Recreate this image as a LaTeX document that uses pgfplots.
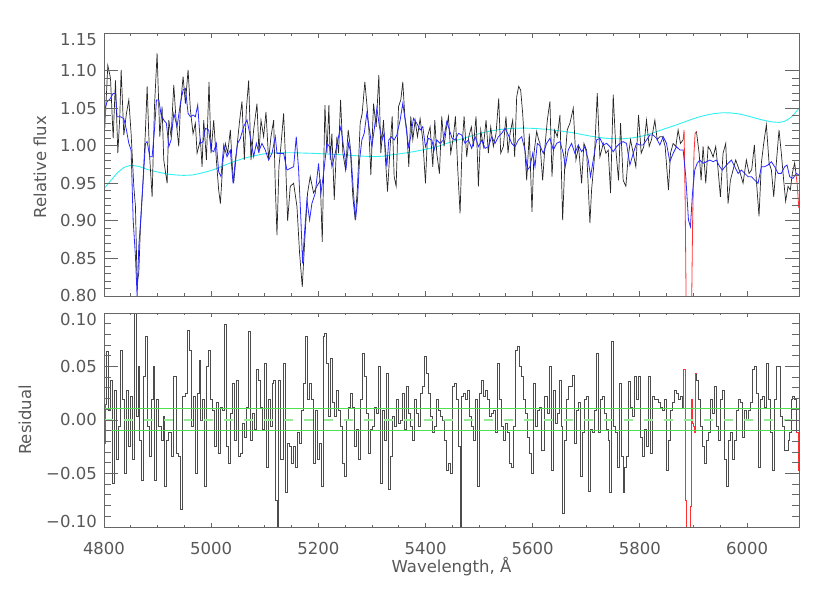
\documentclass[border=0pt]{standalone}
\usepackage{fontspec}
\setmainfont{DejaVu Sans}
\usepackage{pgfplots}
\pgfplotsset{compat=1.18}
\usepackage{pgfplotstable}

\definecolor{txt}{HTML}{585858}
\definecolor{frm}{HTML}{666666}
\definecolor{specblue}{HTML}{2828FF}
\definecolor{speccyan}{HTML}{30F0F0}
\definecolor{specred}{HTML}{FF3030}
\definecolor{grn}{HTML}{50E050}
\definecolor{ltgrn}{HTML}{98EC98}

% observed spectrum (black part)
\pgfplotstableread{
wl f
4803.0 1.045
4807.1 1.107
4812.1 1.090
4817.1 1.010
4821.4 1.087
4825.8 0.990
4829.5 1.039
4832.0 1.101
4837.0 1.014
4841.9 1.043
4846.3 1.061
4850.6 1.016
4855.6 0.946
4858.7 0.919
4861.8 0.817
4864.9 0.830
4868.0 0.892
4873.0 0.954
4877.4 1.021
4880.5 1.079
4884.8 0.990
4889.8 0.932
4894.2 1.052
4899.1 1.123
4904.1 1.012
4908.4 1.052
4911.5 0.981
4917.8 0.950
4920.9 1.034
4925.2 1.012
4930.2 1.081
4934.5 1.034
4939.5 0.999
4942.6 1.052
4947.6 1.092
4951.9 1.056
4956.9 1.101
4961.2 1.048
4966.2 1.016
4970.5 1.030
4973.7 0.990
4979.9 1.008
4983.0 0.972
4986.1 1.034
4991.1 0.981
4996.0 1.085
4999.8 0.990
5004.7 1.034
5009.7 0.981
5014.0 0.941
5017.2 0.923
5022.1 0.981
5026.5 1.003
5030.8 0.990
5035.8 1.021
5039.5 0.972
5042.0 0.950
5048.2 0.999
5053.2 1.034
5057.5 1.059
5061.9 0.981
5065.6 1.048
5070.0 1.087
5074.3 0.981
5079.3 1.021
5085.5 1.056
5089.2 0.990
5093.0 1.034
5097.9 1.012
5102.3 1.045
5107.2 0.981
5111.6 1.012
5116.6 1.034
5119.7 0.946
5122.8 0.881
5126.5 0.972
5130.2 1.000
5135.2 1.043
5138.3 0.990
5142.7 0.900
5147.6 0.946
5153.9 0.950
5160.1 0.919
5165.0 0.857
5170.0 0.812
5175.0 0.879
5179.9 0.937
5184.9 0.959
5191.1 0.937
5197.3 0.946
5203.6 0.954
5207.3 0.872
5212.3 1.054
5216.0 0.990
5219.7 1.054
5222.2 0.981
5225.3 1.016
5229.7 0.928
5234.6 1.012
5237.7 0.990
5241.5 1.061
5245.8 0.990
5250.8 0.968
5255.7 1.021
5259.5 0.999
5264.4 0.932
5268.8 0.901
5273.1 0.946
5278.1 1.030
5281.8 1.043
5286.8 1.085
5290.5 1.056
5294.3 1.021
5298.0 0.961
5303.0 1.056
5307.9 1.025
5312.9 1.094
5316.6 0.990
5321.6 1.034
5325.3 0.981
5329.1 0.939
5334.0 0.999
5337.8 1.039
5341.5 0.959
5345.2 0.946
5349.6 1.052
5353.9 1.061
5357.6 1.085
5361.4 1.039
5365.1 1.021
5368.8 0.972
5372.5 1.039
5376.3 1.008
5380.6 1.034
5385.0 1.012
5389.9 1.036
5394.9 1.008
5399.9 0.950
5403.6 1.012
5408.6 1.025
5413.6 0.972
5417.3 1.034
5421.0 0.990
5426.0 0.963
5430.3 1.039
5434.7 0.999
5438.4 1.021
5442.8 1.039
5447.1 0.990
5452.1 1.012
5455.8 1.039
5460.2 0.968
5464.5 0.910
5468.2 0.999
5472.0 1.039
5476.9 0.985
5480.7 1.012
5485.6 1.025
5489.4 0.999
5494.3 1.039
5498.7 0.946
5503.0 1.021
5508.0 0.999
5513.0 1.034
5517.3 0.990
5521.7 1.025
5526.6 0.999
5531.6 1.016
5536.6 1.063
5540.3 0.990
5545.3 0.999
5550.2 1.039
5554.0 0.990
5557.7 1.016
5562.7 1.034
5566.4 0.985
5570.1 1.065
5573.9 1.079
5577.6 1.074
5581.3 1.043
5585.0 0.999
5588.8 0.954
5593.7 1.016
5598.7 0.912
5602.4 0.990
5607.4 1.019
5611.1 1.008
5613.6 1.003
5618.6 0.954
5622.9 0.999
5627.3 1.034
5632.2 1.059
5636.0 0.959
5640.9 1.021
5645.9 1.012
5650.9 1.041
5655.9 0.901
5660.2 0.981
5664.5 1.021
5669.5 1.030
5675.7 1.050
5680.7 0.981
5685.7 0.999
5691.3 0.950
5695.6 1.003
5700.6 0.994
5706.8 0.897
5709.9 0.941
5714.9 0.981
5720.5 1.070
5725.4 0.985
5731.7 1.003
5736.6 0.990
5741.0 0.994
5745.3 0.937
5750.3 1.068
5755.3 0.994
5760.2 0.954
5764.0 1.030
5768.9 0.954
5773.9 0.946
5778.2 0.985
5782.6 1.008
5787.6 0.990
5792.5 0.972
5797.5 1.041
5802.5 0.990
5807.4 0.999
5812.4 1.034
5817.4 0.999
5821.7 1.008
5828.0 1.034
5832.3 1.008
5837.3 1.012
5842.2 1.012
5847.2 0.999
5853.4 0.941
5857.2 0.990
5862.1 1.003
5867.1 0.999
5871.4 1.021
5875.8 1.003
5880.8 1.008
}\obsA
\pgfplotstableread{
wl f
5905.6 1.019
5910.6 0.990
5914.3 0.954
5918.0 0.999
5923.0 0.950
5927.4 0.999
5931.7 0.994
5936.7 0.985
5941.6 0.999
5946.0 0.968
5950.3 0.932
5955.3 0.990
5960.3 1.003
5964.6 0.923
5969.0 0.954
5974.0 0.968
5978.9 0.981
5983.3 0.972
5987.6 0.963
5992.6 0.950
5998.8 0.981
6003.8 0.963
6008.7 0.968
6013.7 1.001
6017.4 0.954
6022.4 0.906
6026.8 0.977
6031.1 1.003
6036.1 1.028
6041.1 0.977
6045.4 0.968
6049.8 0.932
6054.7 0.977
6059.7 1.021
6064.0 0.990
6068.4 0.954
6072.1 0.926
6076.5 0.946
6080.8 0.941
6084.5 0.963
6088.9 0.977
6092.0 0.959
}\obsB
% best-fit model
\pgfplotstableread{
wl f
4800.9 1.0475
4805.9 1.0586
4812.1 1.0630
4817.1 1.0697
4821.4 1.0690
4824.5 1.0386
4830.8 1.0386
4837.0 1.0360
4841.9 1.0209
4846.3 1.0031
4850.6 0.9940
4854.4 0.9011
4858.7 0.8523
4861.8 0.7990
4864.9 0.8656
4868.0 0.8966
4873.0 0.9543
4877.4 1.0031
4880.5 1.0054
4885.4 0.9854
4889.8 0.9854
4894.2 1.0209
4897.9 1.0608
4902.3 1.0608
4906.6 1.0408
4911.5 1.0342
4916.5 1.0298
4920.9 0.9987
4925.2 1.0076
4930.2 1.0431
4936.4 1.0253
4942.6 1.0564
4947.6 1.0741
4951.9 1.0763
4956.9 1.0431
4961.2 1.0386
4966.2 1.0408
4970.5 1.0386
4974.9 1.0542
4979.9 1.0031
4984.8 1.0054
4989.2 1.0231
4995.4 1.0209
4999.8 0.9943
5004.7 0.9920
5009.7 1.0031
5014.0 0.9654
5018.4 0.9588
5023.4 1.0009
5029.6 0.9854
5035.8 0.9943
5040.8 0.9499
5045.1 0.9809
5049.5 1.0031
5054.4 1.0098
5060.7 1.0253
5066.9 1.0342
5073.1 1.0120
5079.3 0.9854
5084.3 1.0031
5088.6 0.9920
5094.8 1.0031
5101.0 0.9943
5107.2 0.9809
5113.5 0.9898
5119.7 1.0120
5122.8 0.9898
5129.0 0.9898
5135.2 0.9898
5141.4 0.9676
5147.6 0.9699
5153.9 0.9721
5158.8 1.0120
5163.2 0.9676
5167.5 0.9011
5170.6 0.8434
5173.7 0.8789
5178.7 0.9277
5183.7 0.9011
5188.0 0.9233
5194.2 0.9366
5200.4 0.9765
5204.8 0.9366
5209.8 0.9632
5216.0 1.0031
5221.0 0.9987
5225.3 0.9721
5231.5 0.9898
5237.7 1.0120
5242.1 1.0253
5247.0 0.9987
5252.0 0.9721
5256.4 1.0031
5260.7 0.9898
5265.7 0.9366
5269.4 0.9011
5273.1 0.9277
5276.9 0.9809
5281.2 1.0076
5285.6 1.0164
5290.5 1.0431
5295.5 1.0209
5299.9 0.9987
5304.2 1.0209
5309.2 1.0497
5314.1 1.0253
5319.1 1.0076
5322.8 1.0164
5327.8 0.9721
5331.5 1.0076
5336.5 1.0120
5341.5 1.0076
5346.5 1.0142
5352.7 1.0342
5357.6 1.0564
5362.0 1.0342
5368.2 0.9987
5372.5 1.0120
5377.5 1.0364
5383.7 1.0298
5389.9 1.0209
5394.9 1.0253
5399.9 0.9987
5405.5 1.0098
5411.7 1.0076
5416.0 0.9943
5421.0 1.0076
5427.2 1.0031
5433.4 1.0076
5439.7 1.0320
5444.6 1.0209
5449.6 1.0098
5455.2 1.0076
5461.4 1.0164
5467.6 1.0142
5473.8 1.0031
5480.0 1.0076
5486.2 0.9965
5492.5 1.0120
5498.7 0.9987
5504.9 1.0076
5511.1 0.9965
5517.3 0.9987
5523.5 1.0120
5529.7 1.0031
5536.0 1.0120
5542.2 1.0164
5548.4 1.0231
5554.6 1.0142
5560.8 1.0031
5567.0 0.9987
5573.2 1.0076
5579.4 1.0120
5585.7 0.9943
5590.0 0.9676
5595.0 0.9721
5600.0 0.9898
5604.3 0.9721
5608.6 1.0031
5613.6 1.0000
5619.8 0.9898
5626.0 1.0031
5632.2 1.0098
5638.5 0.9943
5644.7 1.0031
5650.9 1.0054
5657.1 0.9898
5660.8 0.9721
5666.4 0.9943
5672.6 1.0031
5678.8 0.9898
5685.0 1.0009
5691.3 0.9920
5697.5 0.9987
5703.7 0.9809
5708.0 0.9588
5713.0 0.9809
5719.2 1.0076
5725.4 1.0098
5731.7 1.0009
5737.9 1.0031
5744.1 0.9987
5750.3 0.9920
5756.5 0.9987
5762.7 1.0031
5768.9 1.0054
5775.1 1.0031
5781.4 0.9743
5787.6 0.9898
5793.8 1.0031
5800.0 1.0009
5806.2 1.0009
5812.4 1.0076
5818.6 1.0142
5824.8 1.0142
5831.1 1.0098
5837.3 1.0009
5843.5 1.0120
5849.7 1.0031
5855.9 0.9787
5862.1 0.9898
5868.3 0.9987
5874.6 0.9943
5880.8 0.9943
5885.7 0.9588
5890.7 0.9011
5894.4 0.8922
5898.2 0.9366
5902.5 0.9676
5906.9 0.9765
5911.8 0.9809
5918.0 0.9765
5924.3 0.9787
5930.5 0.9809
5936.7 0.9787
5942.9 0.9809
5949.1 0.9721
5954.1 0.9676
5959.1 0.9721
5964.6 0.9765
5970.9 0.9809
5977.1 0.9721
5983.3 0.9632
5989.5 0.9676
5995.7 0.9632
6001.9 0.9588
6008.1 0.9588
6014.3 0.9543
6020.6 0.9499
6026.8 0.9721
6033.0 0.9721
6039.2 0.9743
6045.4 0.9787
6051.6 0.9721
6057.8 0.9632
6064.0 0.9632
6070.3 0.9721
6074.6 0.9743
6079.6 0.9588
6085.8 0.9565
6092.0 0.9632
6096.4 0.9610
}\model
% polynomial continuum
\pgfplotstableread{
wl f
4800.0 0.943
4812.0 0.953
4825.0 0.964
4837.0 0.971
4849.4 0.974
4865.0 0.9725
4880.5 0.9685
4900.0 0.965
4917.8 0.9623
4935.0 0.961
4948.8 0.9605
4965.0 0.961
4979.9 0.9632
5000.0 0.967
5011.0 0.9699
5025.0 0.974
5042.0 0.9787
5060.0 0.983
5073.0 0.9854
5090.0 0.988
5104.0 0.9898
5120.0 0.9905
5135.0 0.9907
5160.0 0.9905
5191.0 0.9898
5220.0 0.9888
5253.0 0.9876
5280.0 0.9862
5303.0 0.9854
5320.0 0.986
5334.0 0.9876
5355.0 0.9895
5377.5 0.992
5395.0 0.9945
5408.6 0.9965
5425.0 0.9995
5439.7 1.0031
5455.0 1.0065
5470.7 1.0098
5486.0 1.0131
5501.8 1.0164
5517.0 1.019
5532.8 1.0209
5548.0 1.0223
5563.9 1.0231
5583.0 1.0234
5601.2 1.0231
5626.0 1.0218
5650.0 1.0198
5675.7 1.0173
5690.0 1.0152
5706.8 1.0129
5722.0 1.0112
5737.9 1.0098
5753.0 1.0092
5768.9 1.0093
5785.0 1.0103
5800.0 1.012
5815.0 1.0148
5831.0 1.0187
5846.0 1.0224
5862.0 1.0262
5878.0 1.0302
5893.2 1.0342
5908.0 1.0378
5924.3 1.0408
5940.0 1.0429
5955.3 1.0439
5970.0 1.0436
5986.4 1.0422
6000.0 1.0398
6017.4 1.0364
6033.0 1.0335
6048.5 1.0315
6061.0 1.031
6070.0 1.0325
6079.6 1.0364
6088.0 1.042
6097.0 1.050
}\cont
% residuals
\pgfplotstableread{
wl r
4803.0 0.015
4807.2 0.064
4810.9 0.009
4814.6 0.037
4817.1 -0.059
4821.4 0.028
4825.8 -0.037
4829.5 -0.006
4832.0 0.065
4835.7 0.019
4839.5 -0.050
4843.2 0.028
4846.9 -0.025
4850.6 0.022
4854.4 -0.037
4858.1 0.100
4861.8 0.003
4864.9 0.050
4868.0 -0.019
4871.8 -0.056
4875.5 0.041
4879.2 0.078
4883.0 -0.006
4886.7 -0.034
4889.8 0.019
4892.9 0.050
4896.6 -0.056
4900.4 0.019
4904.1 -0.006
4908.4 -0.019
4911.5 0.003
4914.6 -0.062
4917.8 -0.019
4922.7 -0.012
4927.1 -0.034
4930.2 0.041
4933.9 0.041
4936.4 -0.031
4941.4 -0.034
4943.9 -0.084
4947.6 0.022
4950.1 0.022
4953.8 0.025
4957.5 0.084
4961.2 0.065
4965.0 -0.006
4968.7 0.022
4972.4 -0.050
4976.2 0.025
4978.6 0.056
4982.4 0.000
4986.1 0.019
4989.8 -0.062
4992.3 0.050
4997.3 0.065
5001.0 0.019
5004.7 0.009
5008.5 -0.025
5012.2 0.016
5015.9 -0.031
5019.7 0.012
5023.4 0.009
5027.1 0.089
5030.8 -0.025
5034.6 -0.041
5038.3 0.006
5042.0 0.034
5045.8 -0.019
5049.5 0.037
5053.2 -0.034
5056.9 -0.031
5060.7 -0.003
5064.4 -0.016
5068.1 0.012
5070.6 0.083
5074.3 -0.019
5078.1 0.006
5081.8 -0.009
5085.5 0.047
5089.2 0.037
5093.0 0.012
5096.7 -0.009
5101.6 0.053
5104.1 -0.044
5107.9 0.019
5111.6 -0.006
5115.3 0.034
5117.8 0.037
5121.5 -0.075
5124.0 -0.100
5127.7 0.037
5132.1 -0.037
5136.4 0.053
5140.1 -0.068
5143.8 -0.022
5147.6 -0.025
5151.3 -0.041
5155.1 -0.025
5158.8 -0.044
5163.1 -0.012
5165.0 -0.022
5170.0 0.009
5173.7 0.034
5177.5 0.078
5181.2 0.019
5184.9 0.034
5188.6 0.019
5192.4 -0.041
5196.1 0.009
5199.8 -0.037
5203.6 -0.022
5207.3 -0.062
5209.8 0.078
5213.5 0.081
5217.2 0.053
5221.0 0.003
5225.3 0.058
5228.4 0.016
5232.1 0.003
5235.9 0.028
5239.6 0.009
5243.3 -0.006
5247.0 -0.041
5250.8 -0.053
5254.5 0.000
5258.2 0.012
5262.0 0.025
5265.7 0.012
5269.4 -0.025
5273.1 -0.009
5276.9 -0.037
5280.6 0.019
5284.3 0.062
5288.1 0.041
5291.8 0.006
5295.5 -0.031
5299.2 -0.009
5303.0 -0.006
5306.7 0.012
5310.4 0.006
5314.1 0.050
5317.9 -0.059
5321.6 0.009
5325.3 -0.019
5329.1 0.044
5332.8 -0.065
5336.5 -0.034
5340.2 0.003
5344.0 -0.006
5347.7 0.019
5351.4 -0.003
5355.2 0.000
5358.9 0.025
5362.6 -0.009
5366.3 0.031
5370.1 0.006
5373.8 -0.006
5377.5 -0.019
5381.2 0.019
5385.0 0.006
5388.7 -0.006
5392.4 0.025
5396.2 0.031
5399.9 0.059
5403.6 0.044
5407.3 0.025
5411.1 0.003
5414.8 -0.012
5418.5 -0.006
5422.3 0.019
5426.0 0.009
5429.7 0.003
5433.4 0.000
5437.2 -0.019
5440.9 -0.047
5444.6 -0.041
5448.3 -0.050
5452.1 0.031
5455.8 0.034
5459.5 0.019
5463.3 -0.025
5465.1 -0.100
5468.2 0.022
5472.0 0.025
5475.7 0.019
5479.4 0.028
5483.1 0.003
5486.9 -0.006
5490.6 -0.019
5494.3 0.019
5498.1 -0.062
5501.8 0.025
5505.5 0.037
5509.2 0.022
5513.0 0.028
5516.7 0.019
5520.4 0.003
5524.1 0.006
5527.9 0.009
5531.6 -0.012
5535.3 0.053
5539.1 0.019
5542.8 -0.006
5546.5 -0.019
5550.2 -0.003
5554.0 -0.012
5557.7 -0.041
5561.4 -0.044
5565.2 -0.006
5568.9 0.065
5572.6 0.069
5576.3 0.050
5580.1 0.041
5583.8 0.019
5587.5 0.006
5591.2 -0.016
5595.0 -0.031
5598.7 -0.050
5602.4 0.034
5606.2 -0.006
5609.9 0.009
5613.6 0.012
5619.8 -0.028
5624.8 0.022
5628.5 0.006
5632.2 0.050
5636.0 -0.047
5639.7 0.028
5643.4 -0.003
5647.1 0.006
5650.9 0.037
5654.6 -0.006
5657.1 -0.087
5660.8 -0.019
5664.5 0.019
5668.3 0.031
5672.0 0.031
5675.7 0.042
5679.5 -0.022
5683.2 0.009
5686.9 0.016
5690.6 -0.053
5694.4 -0.012
5698.1 0.019
5701.8 0.022
5705.6 -0.067
5709.3 -0.009
5713.0 -0.012
5716.7 0.009
5720.5 0.062
5724.2 -0.012
5727.9 0.019
5731.7 0.022
5735.4 0.006
5739.1 -0.009
5742.8 -0.019
5745.3 -0.068
5749.0 0.073
5752.8 -0.006
5756.5 -0.012
5760.2 -0.044
5764.0 0.034
5767.7 -0.034
5770.2 -0.068
5773.9 -0.044
5777.6 -0.034
5781.4 0.036
5785.1 0.012
5788.8 0.003
5792.5 0.041
5796.3 0.019
5800.0 0.041
5803.7 -0.016
5807.4 -0.034
5811.2 -0.009
5814.9 -0.025
5818.6 0.041
5822.4 -0.031
5826.1 0.022
5829.8 0.019
5833.5 0.019
5837.3 0.016
5841.0 0.012
5844.7 0.009
5848.5 0.019
5852.2 -0.047
5855.9 -0.019
5859.6 0.009
5863.4 0.016
5867.1 0.028
5870.8 0.025
5874.6 0.019
5878.3 0.022
5880.8 0.012
}\resA
\pgfplotstableread{
wl r
5905.6 0.044
5906.9 0.037
5910.6 0.019
5914.3 -0.006
5918.0 -0.025
5921.8 -0.041
5925.5 -0.019
5929.2 -0.012
5932.9 0.019
5936.7 0.006
5940.4 0.031
5944.1 -0.006
5947.9 -0.019
5951.6 0.019
5955.3 0.028
5959.0 -0.037
5962.8 -0.062
5966.5 -0.019
5970.2 -0.012
5974.0 -0.037
5977.7 -0.019
5981.4 0.009
5985.1 0.019
5988.9 0.016
5992.6 -0.016
5996.3 0.009
6000.1 0.000
6003.8 0.009
6007.5 0.016
6011.2 0.047
6015.0 0.050
6018.7 0.025
6022.4 -0.044
6026.2 0.019
6029.9 0.022
6033.6 0.012
6037.3 0.053
6041.1 0.019
6044.8 -0.012
6048.5 -0.047
6052.2 0.019
6056.0 0.050
6059.7 0.050
6063.4 0.003
6067.2 -0.006
6070.9 -0.028
6074.6 -0.028
6078.3 -0.019
6080.8 -0.012
6083.3 0.019
6087.0 0.022
6090.8 0.019
6092.0 -0.012
}\resB

\pgfplotsset{
  panel/.style={
    scale only axis, width=695pt,
    xmin=4800, xmax=6097,
    axis line style={frm, line width=0.8pt},
    every tick/.style={frm, line width=0.8pt},
    tick align=inside,
    every tick label/.append style={font=\fontsize{16.5}{18}\selectfont, text=txt},
    xticklabel style={anchor=north, inner sep=0pt, yshift=-14.7pt},
    yticklabel style={anchor=east, inner sep=0pt, xshift=-7pt},
  },
}

\begin{document}
\begin{tikzpicture}
\path[use as bounding box] (0pt,0pt) rectangle (830pt,593pt);

% ---- upper panel: spectrum ----
\begin{axis}[panel, at={(104pt,297pt)}, anchor=south west, height=263pt,
    ymin=0.80, ymax=1.15,
    xtick={4800,5000,5200,5400,5600,5800,6000}, minor x tick num=3,
    xticklabels={}, ytick=\empty,
    major tick length=5.3pt, minor tick length=2.7pt]
  \addplot[speccyan, line width=0.9pt] table {\cont};
  \addplot[black!85, line width=0.7pt] table {\obsA};
  \addplot[black!85, line width=0.7pt] table {\obsB};
  \addplot[specred, line width=0.8pt] coordinates {
    (4800.0,1.060) (4801.5,1.023) (4803.0,1.045)};
  \addplot[specred, line width=0.8pt] coordinates {
    (5880.8,1.008) (5882.5,1.021) (5884.5,0.930) (5886.5,0.780) (5889.0,0.700)
    (5893.0,0.700) (5896.5,0.780) (5898.5,0.900) (5901.0,0.990) (5903.1,1.016)
    (5905.6,1.019)};
  \addplot[specred, line width=0.8pt] coordinates {
    (6092.0,0.959) (6094.0,0.946) (6096.5,0.917)};
  \addplot[specblue, line width=0.8pt] table {\model};
\end{axis}
\begin{axis}[panel, at={(104pt,297pt)}, anchor=south west, height=263pt,
    ymin=0.80, ymax=1.15, xtick=\empty,
    ytick={0.8,0.85,0.9,0.95,1,1.05,1.1},
    yticklabels={0.80,0.85,0.90,0.95,1.00,1.05,1.10},
    extra y ticks={1.15}, extra y tick labels={1.15},
    extra y tick style={yticklabel style={yshift=-6.5pt}},
    minor y tick num=4,
    major tick length=13.7pt, minor tick length=7pt]
\end{axis}

% ---- lower panel: residuals ----
\begin{axis}[panel, at={(104pt,66pt)}, anchor=south west, height=214pt,
    ymin=-0.1, ymax=0.1,
    xtick={4800,5000,5200,5400,5600,5800,6000}, minor x tick num=3,
    xticklabels={4800,5000,5200,5400,5600,5800,6000}, ytick=\empty,
    major tick length=4.3pt, minor tick length=2.2pt]
  \addplot[black!70, line width=0.8pt, const plot mark mid] table {\resA};
  \addplot[black!70, line width=0.8pt, const plot mark mid] table {\resB};
  \addplot[specred, line width=0.8pt, const plot mark mid] coordinates {
    (4800.0,0.030) (4801.5,-0.022) (4803.0,0.015)};
  \addplot[specred, line width=0.8pt, const plot mark mid] coordinates {
    (5880.8,0.012) (5883.2,0.047) (5885.7,-0.075) (5888.2,-0.120) (5893.2,-0.120)
    (5895.7,-0.081) (5896.9,0.019) (5899.4,-0.003) (5900.6,-0.006) (5902.5,-0.012)
    (5904.4,0.044) (5905.6,0.044)};
  \addplot[specred, line width=0.8pt, const plot mark mid] coordinates {
    (6092.0,-0.012) (6094.0,-0.012) (6096.5,-0.047)};
  \addplot[grn, line width=0.9pt] coordinates {(4800,0.0105) (6097,0.0105)};
  \addplot[grn, line width=0.9pt] coordinates {(4800,-0.0100) (6097,-0.0100)};
  \addplot[ltgrn, line width=1.5pt, dash pattern=on 9pt off 11pt] coordinates {(4800,0) (6097,0)};
\end{axis}
\begin{axis}[panel, at={(104pt,66pt)}, anchor=south west, height=214pt,
    ymin=-0.1, ymax=0.1, xtick=\empty,
    ytick={-0.1,-0.05,0,0.05,0.1},
    yticklabels={{},−0.05,0.00,0.05,{}},
    minor y tick num=4,
    major tick length=13.7pt, minor tick length=7pt]
\end{axis}

% outer tick labels of the residual panel
\node[anchor=east, inner sep=0pt, text=txt, font=\fontsize{16.5}{18}\selectfont]
  at (97pt,273.5pt) {0.10};
\node[anchor=east, inner sep=0pt, text=txt, font=\fontsize{16.5}{18}\selectfont]
  at (97pt,71.3pt) {−0.10};

% axis titles
\node[rotate=90, text=txt, font=\fontsize{16.5}{18}\selectfont] at (40pt,426pt) {Relative flux};
\node[rotate=90, text=txt, font=\fontsize{16.5}{18}\selectfont] at (25pt,173pt) {Residual};
\node[text=txt, font=\fontsize{16.5}{18}\selectfont] at (451.5pt,26pt) {Wavelength, Å};
\end{tikzpicture}
\end{document}
